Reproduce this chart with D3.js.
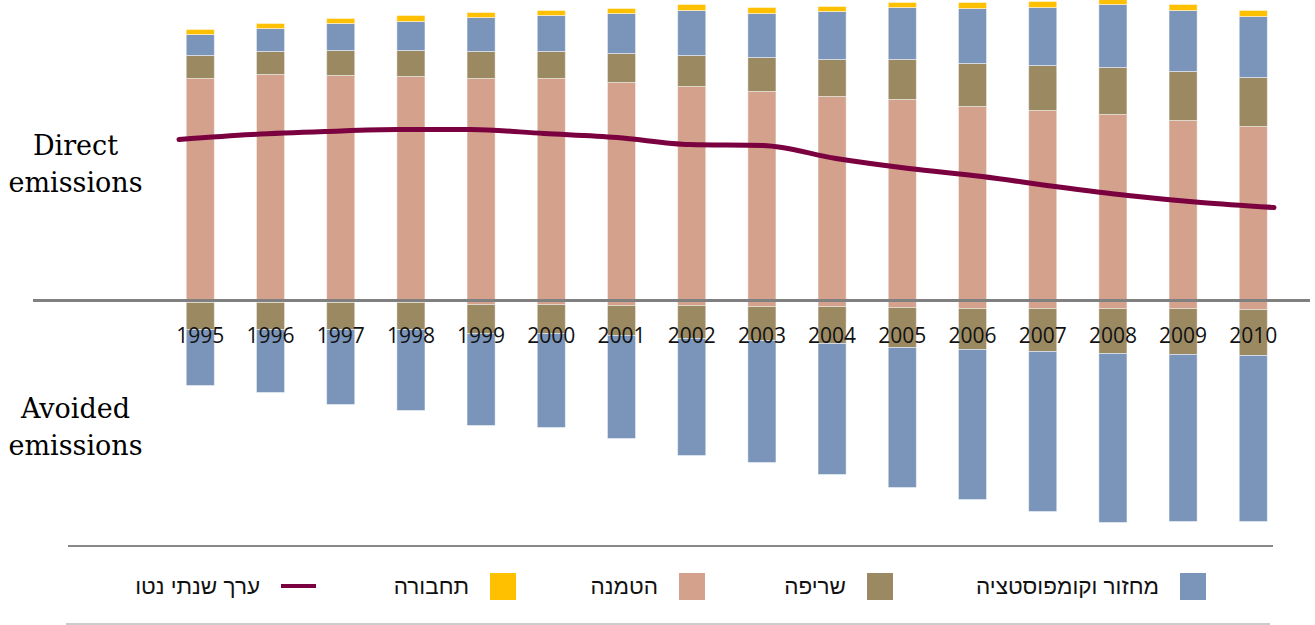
<!DOCTYPE html>
<html>
<head>
<meta charset="utf-8">
<script src="https://cdn.jsdelivr.net/npm/d3@7"></script>
<style>
  body { margin: 0; background: #fff; }
  svg { display: block; }
</style>
</head>
<body>
<div id="chart"></div>
<script>
// values (arbitrary units, 1 unit = 10px in the original)
const years = ["1995", "1996", "1997", "1998", "1999", "2000", "2001", "2002",
  "2003", "2004", "2005", "2006", "2007", "2008", "2009", "2010"];

// direct emissions (positive stack)
const landfillPos = [22.2, 22.6, 22.5, 22.4, 22.2, 22.2, 21.8, 21.4, 20.9, 20.4, 20.1, 19.4, 19.0, 18.6, 18.0, 17.4];
const incinerationPos = [2.3, 2.3, 2.5, 2.6, 2.7, 2.7, 2.9, 3.1, 3.4, 3.7, 4.0, 4.3, 4.5, 4.7, 4.9, 4.9];
const recyclingPos = [2.1, 2.3, 2.7, 2.9, 3.4, 3.6, 4.0, 4.5, 4.4, 4.8, 5.2, 5.5, 5.8, 6.3, 6.1, 6.1];
const transportPos = [0.5, 0.5, 0.5, 0.6, 0.5, 0.5, 0.5, 0.6, 0.6, 0.5, 0.5, 0.6, 0.6, 0.6, 0.6, 0.6];

// avoided emissions (negative stack)
const landfillNeg = [-0.2, -0.2, -0.2, -0.2, -0.4, -0.4, -0.5, -0.5, -0.6, -0.6, -0.7, -0.8, -0.8, -0.8, -0.8, -0.9];
const incinerationNeg = [-2.7, -2.7, -2.7, -2.7, -2.9, -2.9, -3.0, -3.3, -3.4, -3.7, -4.0, -4.1, -4.3, -4.5, -4.6, -4.6];
const recyclingNeg = [-5.6, -6.3, -7.5, -8.1, -9.2, -9.4, -10.3, -11.7, -12.2, -13.1, -14.0, -15.0, -16.0, -16.9, -16.7, -16.6];

// net annual value
const netValue = [16.1, 16.6, 16.9, 17.1, 17.1, 16.7, 16.3, 15.6, 15.5, 14.2, 13.2, 12.4, 11.4, 10.5, 9.8, 9.3];

const colors = {
  recycling: "#7A95B9",
  incineration: "#9B8962",
  landfill: "#D3A18C",
  transport: "#FFC000",
  net: "#7B0040",
};

const legendItems = [
  { label: "מחזור וקומפוסטציה", color: colors.recycling, type: "rect", x: 1180 },
  { label: "שריפה", color: colors.incineration, type: "rect", x: 867 },
  { label: "הטמנה", color: colors.landfill, type: "rect", x: 679 },
  { label: "תחבורה", color: colors.transport, type: "rect", x: 490 },
  { label: "ערך שנתי נטו", color: colors.net, type: "line", x: 281 },
];

const width = 1315, height = 625;

const svg = d3.select("#chart")
  .append("svg")
  .attr("width", width)
  .attr("height", height);

const x = d3.scaleBand()
  .domain(years)
  .range([165.2, 1288.4])
  .paddingInner(0.6)
  .paddingOuter(0.3);

// the line sits on its own category axis, a bit wider than the bars
const xLine = d3.scalePoint().domain(years).range([179, 1274]);

const y = d3.scaleLinear().domain([-25, 30]).range([550.5, 0.5]);

// build stacked segments
const posSeries = [
  { key: "landfill", values: landfillPos },
  { key: "incineration", values: incinerationPos },
  { key: "recycling", values: recyclingPos },
  { key: "transport", values: transportPos },
];
const negSeries = [
  { key: "landfill", values: landfillNeg },
  { key: "incineration", values: incinerationNeg },
  { key: "recycling", values: recyclingNeg },
];

const segments = [];
years.forEach((yr, i) => {
  let acc = 0;
  posSeries.forEach((s) => {
    segments.push({ year: yr, key: s.key, y0: acc, y1: acc + s.values[i] });
    acc += s.values[i];
  });
  acc = 0;
  negSeries.forEach((s) => {
    segments.push({ year: yr, key: s.key, y0: acc, y1: acc + s.values[i] });
    acc += s.values[i];
  });
});

svg.append("g")
  .selectAll("rect")
  .data(segments)
  .enter()
  .append("rect")
  .attr("x", (d) => x(d.year))
  .attr("width", x.bandwidth())
  .attr("y", (d) => Math.min(y(d.y0), y(d.y1)))
  .attr("height", (d) => Math.abs(y(d.y0) - y(d.y1)))
  .attr("fill", (d) => colors[d.key])
  .attr("stroke", "rgba(255,255,255,0.45)")
  .attr("stroke-width", 1);

// zero line
svg.append("line")
  .attr("x1", 33)
  .attr("x2", 1310)
  .attr("y1", y(0))
  .attr("y2", y(0))
  .attr("stroke", "#808080")
  .attr("stroke-width", 3);

// year labels
svg.append("g")
  .selectAll("text")
  .data(years)
  .enter()
  .append("text")
  .attr("x", (d) => x(d) + x.bandwidth() / 2)
  .attr("y", 342.5)
  .attr("text-anchor", "middle")
  .attr("font-family", "'Open Sans', sans-serif")
  .attr("font-size", 21)
  .attr("fill", "#111")
  .text((d) => d);

// net line
const line = d3.line()
  .x((d, i) => xLine(years[i]))
  .y((d) => y(d))
  .curve(d3.curveMonotoneX);

svg.append("path")
  .datum(netValue)
  .attr("d", line)
  .attr("fill", "none")
  .attr("stroke", colors.net)
  .attr("stroke-width", 5)
  .attr("stroke-linecap", "round")
  .attr("stroke-linejoin", "round");

// side labels
const sideLabels = [
  { text: "Direct", y: 155 },
  { text: "emissions", y: 191.5 },
  { text: "Avoided", y: 418 },
  { text: "emissions", y: 455 },
];
svg.append("g")
  .selectAll("text")
  .data(sideLabels)
  .enter()
  .append("text")
  .attr("x", 75.5)
  .attr("y", (d) => d.y)
  .attr("text-anchor", "middle")
  .attr("font-family", "'DejaVu Serif', serif")
  .attr("font-size", 27)
  .attr("fill", "#000")
  .text((d) => d.text);

// legend frame lines
svg.append("line")
  .attr("x1", 68).attr("x2", 1273)
  .attr("y1", 546).attr("y2", 546)
  .attr("stroke", "#888").attr("stroke-width", 2);
svg.append("line")
  .attr("x1", 66).attr("x2", 1270)
  .attr("y1", 624).attr("y2", 624)
  .attr("stroke", "#bbb").attr("stroke-width", 1.5);

const legend = svg.append("g")
  .selectAll("g")
  .data(legendItems)
  .enter()
  .append("g");

legend.filter((d) => d.type === "rect")
  .append("rect")
  .attr("x", (d) => d.x)
  .attr("y", 573)
  .attr("width", 26)
  .attr("height", 27)
  .attr("fill", (d) => d.color);

legend.filter((d) => d.type === "line")
  .append("line")
  .attr("x1", (d) => d.x)
  .attr("x2", (d) => d.x + 35)
  .attr("y1", 586)
  .attr("y2", 586)
  .attr("stroke", (d) => d.color)
  .attr("stroke-width", 4);

legend.append("text")
  .attr("x", (d) => d.x - 21)
  .attr("y", 594)
  .attr("text-anchor", "end")
  .attr("font-family", "'Liberation Sans', 'DejaVu Sans', sans-serif")
  .attr("font-size", 22.5)
  .attr("fill", "#111")
  .text((d) => d.label);
</script>
</body>
</html>
